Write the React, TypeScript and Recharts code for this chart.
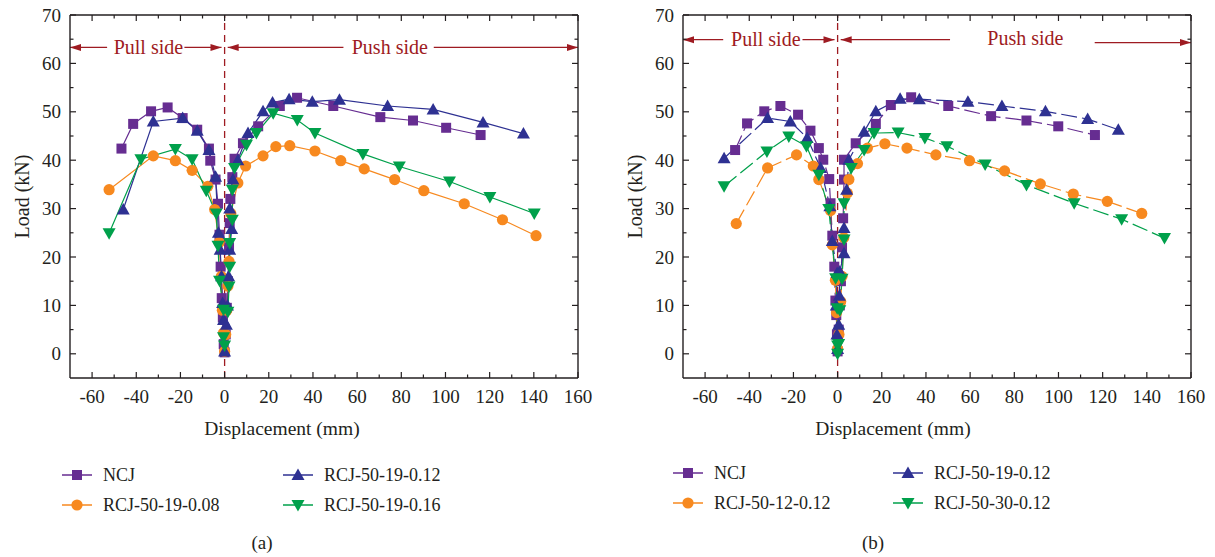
import React from "react";
import { LineChart, Line, XAxis, YAxis, ReferenceLine, ReferenceDot } from "recharts";

// ---- panel (a) ----
const ncjAX = [-46.7, -41.4, -33.3, -25.8, -19, -12.4, -7.1, -6.5, -4.1, -3, -2.3, -1.8, -1.3, -0.8, -0.4, 0, 0.5, 1, 1.5, 2, 2.3, 2.6, 3.5, 4.5, 8.3, 15.2, 25, 32.8, 49.2, 70.5, 85.3, 100.3, 115.9];
const ncjAY = [42.4, 47.5, 50.1, 50.9, 48.7, 46.3, 42.4, 39.9, 36, 31, 24.6, 18, 11.5, 7.5, 2, 0.3, 4, 9.5, 15, 22, 27, 32, 36.5, 40.3, 43.5, 47, 51.2, 52.9, 51.2, 48.9, 48.2, 46.7, 45.2];

const r008X = [-52.3, -32.3, -22.3, -14.7, -7.6, -4.5, -2.5, -1.5, -1, -0.5, 0, 0.5, 1, 1.5, 2, 2.8, 6, 9.5, 17.4, 23.2, 29.5, 40.9, 52.6, 63.2, 77, 90.2, 108.5, 125.8, 141];
const r008Y = [33.9, 40.9, 39.9, 37.9, 34.6, 29.8, 23, 16, 9, 4.3, 0.5, 4, 9, 14, 19.1, 29, 35.3, 38.8, 40.9, 42.8, 43, 41.9, 39.9, 38.2, 36, 33.7, 31, 27.7, 24.4];

const r012AX = [-45.9, -32.3, -19, -12.4, -7.1, -4.1, -2.8, -2, -1.4, -0.9, -0.5, 0, 0.8, 1.3, 1.8, 2.3, 3.2, 2.3, 3.8, 6, 10.6, 17.4, 21.7, 29.2, 39.7, 52, 73.8, 94.4, 117, 135.3];
const r012AY = [29.8, 48, 48.7, 46.1, 42.1, 36.6, 25, 21.5, 16, 10.5, 7, 0.5, 6, 10, 16, 21.5, 25.8, 30, 36, 40, 45.6, 50.1, 51.9, 52.6, 52.1, 52.5, 51.2, 50.5, 47.8, 45.5];

const r016X = [-52.3, -37.9, -22.3, -14.7, -8.3, -3.8, -3, -2.3, -0.5, -0.5, 0, 1.5, 2, 2.3, 2.3, 3.5, 3.5, 4.5, 9.9, 14.4, 22, 32.9, 40.9, 62.6, 79.1, 101.8, 120.1, 140.2];
const r016Y = [24.9, 40.2, 42.3, 40.2, 33.7, 29, 22.3, 15.1, 9.1, 3.4, 1.7, 8.7, 13.9, 18, 22.9, 27.7, 33.9, 38.4, 43.2, 45.6, 49.7, 48.3, 45.6, 41.3, 38.7, 35.6, 32.4, 29];

// ---- panel (b) ----
const ncjBX = [-46.4, -41, -33.2, -25.9, -17.9, -12.3, -8.5, -6.5, -3.8, -3.2, -2.4, -1.5, -1, -0.6, -0.3, 0, 0.5, 1, 1.5, 2, 2.5, 2.9, 2.9, 8.2, 17.3, 24.1, 33.3, 50.1, 69.5, 85.5, 99.9, 116.5];
const ncjBY = [42.1, 47.6, 50.1, 51.2, 49.4, 46.1, 42.5, 40.1, 36.1, 31.1, 24.4, 18, 11, 8, 4, 0.5, 5, 10, 15, 22, 28, 36, 40.1, 43.5, 47.5, 51.4, 53, 51.2, 49.1, 48.2, 47, 45.2];

const r12X = [-45.9, -31.7, -18.6, -11, -8.5, -3.2, -2.4, -1, -0.5, 0, 0.6, 1.4, 2, 2.8, 4.4, 5.1, 9, 13.5, 21.4, 31.4, 44.5, 59.7, 75.6, 91.8, 106.7, 122.1, 137.7];
const r12Y = [26.9, 38.4, 41.1, 38.8, 36, 29.6, 22.5, 15.2, 8.5, 1, 4, 10.8, 16, 24, 33.2, 36, 39.3, 42.5, 43.4, 42.5, 41.1, 39.9, 37.8, 35.1, 33, 31.5, 29];

const r19BX = [-51.4, -31.7, -21.4, -13.8, -7.7, -3.5, -2.4, -0.2, -0.6, -0.3, 0, 0.5, 0.8, 1, 2.9, 2.9, 4.1, 5.1, 12, 17.3, 28.3, 37, 59, 74.4, 94.1, 113.2, 127.1];
const r19BY = [40.4, 48.7, 48, 44.6, 38.4, 30.5, 23.3, 16.7, 10, 4, 1, 6, 12, 17, 20.8, 26, 33.9, 40.1, 45.9, 50.1, 52.7, 52.6, 52.1, 51.2, 50.1, 48.5, 46.3];

const r30X = [-51.4, -32, -22.1, -14.1, -8.5, -4, -0.9, -0.2, 0, 0, 0.5, 1, 2, 2.9, 2.9, 6.2, 12, 16.5, 27.4, 39.5, 49.5, 66.8, 85.5, 107.1, 128.6, 148];
const r30Y = [34.6, 41.8, 44.9, 42.9, 37, 29.9, 15.6, 9.4, 1.7, 0, 2, 9, 15.5, 23.6, 31.1, 38.4, 42.1, 45.6, 45.7, 44.6, 42.9, 39.1, 34.9, 31.1, 27.8, 23.9];

const xMajor = [-60, -40, -20, 0, 20, 40, 60, 80, 100, 120, 140, 160];
const xMinor = [-50, -30, -10, 10, 30, 50, 70, 90, 110, 130, 150];
const yMajor = [0, 10, 20, 30, 40, 50, 60, 70];
const yMinor = [5, 15, 25, 35, 45, 55, 65];

const FONT = '"Liberation Serif", "Times New Roman", serif';
const INK = "#231f20";
const RED = "#9e1b22";
const PURPLE = "#662d91";
const BLUE = "#2e3192";
const ORANGE = "#f7891f";
const GREEN = "#00a04b";

type Shape = "square" | "circle" | "up" | "down";
type Series = { name: string; color: string; shape: Shape; xs: number[]; ys: number[] };

const toPoints = (xs: number[], ys: number[]) => xs.map((x, i) => ({ x, y: ys[i] }));

const seriesA: Series[] = [
  { name: "NCJ", color: PURPLE, shape: "square", xs: ncjAX, ys: ncjAY },
  { name: "RCJ-50-19-0.08", color: ORANGE, shape: "circle", xs: r008X, ys: r008Y },
  { name: "RCJ-50-19-0.12", color: BLUE, shape: "up", xs: r012AX, ys: r012AY },
  { name: "RCJ-50-19-0.16", color: GREEN, shape: "down", xs: r016X, ys: r016Y },
];

const seriesB: Series[] = [
  { name: "NCJ", color: PURPLE, shape: "square", xs: ncjBX, ys: ncjBY },
  { name: "RCJ-50-12-0.12", color: ORANGE, shape: "circle", xs: r12X, ys: r12Y },
  { name: "RCJ-50-19-0.12", color: BLUE, shape: "up", xs: r19BX, ys: r19BY },
  { name: "RCJ-50-30-0.12", color: GREEN, shape: "down", xs: r30X, ys: r30Y },
];

function Marker({ cx, cy, shape, color }: { cx: number; cy: number; shape: Shape; color: string }) {
  if (cx == null || cy == null) return null;
  if (shape === "square") return <rect x={cx - 5} y={cy - 5} width={10} height={10} fill={color} />;
  if (shape === "circle") return <circle cx={cx} cy={cy} r={5.6} fill={color} />;
  if (shape === "up")
    return <polygon points={`${cx},${cy - 6.5} ${cx - 6.5},${cy + 5} ${cx + 6.5},${cy + 5}`} fill={color} />;
  return <polygon points={`${cx - 6.5},${cy - 5} ${cx + 6.5},${cy - 5} ${cx},${cy + 6.5}`} fill={color} />;
}

type Seg = { x1: number; x2: number; y: number; head: "start" | "end" };
type Note = { x: number; y: number; text: string };

const segsA: Seg[] = [
  { x1: -70, x2: -53.2, y: 63.3, head: "start" },
  { x1: -18.2, x2: -1.4, y: 63.3, head: "end" },
  { x1: 1.4, x2: 53.8, y: 63.3, head: "start" },
  { x1: 94.7, x2: 160, y: 63.3, head: "end" },
];
const notesA: Note[] = [
  { x: -34.5, y: 63.3, text: "Pull side" },
  { x: 74.8, y: 63.3, text: "Push side" },
];
const segsB: Seg[] = [
  { x1: -70, x2: -51.8, y: 64.9, head: "start" },
  { x1: -15.9, x2: -1.4, y: 64.9, head: "end" },
  { x1: 1.4, x2: 50.9, y: 64.9, head: "start" },
  { x1: 116.4, x2: 160, y: 64.3, head: "end" },
];
const notesB: Note[] = [
  { x: -32.5, y: 65.1, text: "Pull side" },
  { x: 85, y: 65.3, text: "Push side" },
];

const arrowShape = (head: "start" | "end") => (p: any) => {
  const { x1, y1, x2, y2 } = p;
  const hx = head === "start" ? Math.min(x1, x2) : Math.max(x1, x2);
  const dir = head === "start" ? 1 : -1;
  return (
    <g>
      <line x1={x1} y1={y1} x2={x2} y2={y2} stroke={RED} strokeWidth={1.3} />
      <polygon points={`${hx},${y1} ${hx + dir * 11},${y1 - 3.5} ${hx + dir * 11},${y1 + 3.5}`} fill={RED} />
    </g>
  );
};

const BottomTick = (p: any) => {
  const { x, y, payload } = p;
  const major = payload.value % 20 === 0;
  return (
    <g>
      <line x1={x} x2={x} y1={y} y2={y - (major ? 6 : 3.5)} stroke={INK} strokeWidth={1.2} />
      {major && (
        <text x={x} y={y + 25} textAnchor="middle" fontFamily={FONT} fontSize={19} fill={INK}>
          {payload.value}
        </text>
      )}
    </g>
  );
};
const TopTick = (p: any) => {
  const { x, y, payload } = p;
  const major = payload.value % 20 === 0;
  return <line x1={x} x2={x} y1={y} y2={y + (major ? 6 : 3.5)} stroke={INK} strokeWidth={1.2} />;
};
const LeftTick = (p: any) => {
  const { x, y, payload } = p;
  const major = payload.value % 10 === 0;
  return (
    <g>
      <line x1={x} x2={x + (major ? 6 : 3.5)} y1={y} y2={y} stroke={INK} strokeWidth={1.2} />
      {major && (
        <text x={x - 9} y={y} textAnchor="end" dominantBaseline="central" fontFamily={FONT} fontSize={19} fill={INK}>
          {payload.value}
        </text>
      )}
    </g>
  );
};
const RightTick = (p: any) => {
  const { x, y, payload } = p;
  const major = payload.value % 10 === 0;
  return <line x1={x} x2={x - (major ? 6 : 3.5)} y1={y} y2={y} stroke={INK} strokeWidth={1.2} />;
};

function Panel({ series, dashed, segs, notes, labelShift }: { series: Series[]; dashed: boolean; segs: Seg[]; notes: Note[]; labelShift: number }) {
  const xTicks = [...xMajor, ...xMinor].sort((a, b) => a - b);
  const yTicks = [...yMajor, ...yMinor].sort((a, b) => a - b);
  const axisLine = { stroke: INK, strokeWidth: 1.4 };
  return (
    <LineChart width={600} height={440} margin={{ top: 14, right: 21, bottom: 0, left: 0 }}>
      <XAxis
        dataKey="x"
        type="number"
        domain={[-70, 160]}
        allowDataOverflow
        ticks={xTicks}
        interval={0}
        tick={<BottomTick />}
        tickLine={false}
        tickSize={0}
        tickMargin={0}
        height={62}
        axisLine={axisLine}
        label={(p: any) => {
          const vb = p.viewBox;
          return (
            <text x={vb.x + vb.width / 2 + labelShift} y={vb.y + 50} textAnchor="middle" dominantBaseline="central" fontFamily={FONT} fontSize={19.5} fill={INK}>
              Displacement (mm)
            </text>
          );
        }}
      />
      <XAxis
        xAxisId="top"
        orientation="top"
        dataKey="x"
        type="number"
        domain={[-70, 160]}
        allowDataOverflow
        ticks={xTicks}
        interval={0}
        tick={<TopTick />}
        tickLine={false}
        tickSize={0}
        tickMargin={0}
        height={1}
        axisLine={axisLine}
      />
      <YAxis
        type="number"
        domain={[-5, 70]}
        allowDataOverflow
        ticks={yTicks}
        interval={0}
        tick={<LeftTick />}
        tickLine={false}
        tickSize={0}
        tickMargin={0}
        width={70}
        axisLine={axisLine}
        label={(p: any) => {
          const vb = p.viewBox;
          return (
            <text transform={`translate(${vb.x + 22},${vb.y + vb.height / 2}) rotate(-90)`} textAnchor="middle" dominantBaseline="central" fontFamily={FONT} fontSize={20} fill={INK}>
              Load (kN)
            </text>
          );
        }}
      />
      <YAxis
        yAxisId="right"
        orientation="right"
        type="number"
        domain={[-5, 70]}
        allowDataOverflow
        ticks={yTicks}
        interval={0}
        tick={<RightTick />}
        tickLine={false}
        tickSize={0}
        tickMargin={0}
        width={1}
        axisLine={axisLine}
      />
      {series.map((s) => (
        <Line
          key={s.name}
          data={toPoints(s.xs, s.ys)}
          dataKey="y"
          type="linear"
          stroke={s.color}
          strokeWidth={1.2}
          strokeDasharray={dashed ? "16 5" : undefined}
          isAnimationActive={false}
          activeDot={false}
          dot={(p: any) => <Marker key={`${s.name}-${p.index}`} cx={p.cx} cy={p.cy} shape={s.shape} color={s.color} />}
        />
      ))}
      <ReferenceLine x={0} stroke={RED} strokeWidth={1.3} strokeDasharray="7 5" />
      {segs.map((g, i) => (
        <ReferenceLine
          key={`seg-${i}`}
          segment={[{ x: g.x1, y: g.y }, { x: g.x2, y: g.y }]}
          ifOverflow="visible"
          shape={arrowShape(g.head)}
        />
      ))}
      {notes.map((n) => (
        <ReferenceDot
          key={n.text}
          x={n.x}
          y={n.y}
          r={0}
          ifOverflow="visible"
          shape={(p: any) => (
            <text x={p.cx} y={p.cy} textAnchor="middle" dominantBaseline="central" fontFamily={FONT} fontSize={20} fill={RED}>
              {n.text}
            </text>
          )}
        />
      ))}
    </LineChart>
  );
}

function LegendItem({ s, left, top }: { s: Series; left: number; top: number }) {
  return (
    <div style={{ position: "absolute", left, top: top - 14, height: 28, display: "flex", alignItems: "center" }}>
      <svg width={32} height={28}>
        <line x1={1} x2={31} y1={14} y2={14} stroke={s.color} strokeWidth={1.5} />
        <Marker cx={16} cy={14} shape={s.shape} color={s.color} />
      </svg>
      <span style={{ marginLeft: 10, fontFamily: FONT, fontSize: 18, color: INK, whiteSpace: "nowrap" }}>{s.name}</span>
    </div>
  );
}

export default function App() {
  return (
    <div style={{ position: "absolute", left: 0, top: 0, width: 1215, height: 557, background: "#fff", overflow: "hidden" }}>
      <div style={{ position: "absolute", left: 0, top: 0 }}>
        <Panel series={seriesA} dashed={false} segs={segsA} notes={notesA} labelShift={-42} />
      </div>
      <div style={{ position: "absolute", left: 613, top: 0 }}>
        <Panel series={seriesB} dashed={true} segs={segsB} notes={notesB} labelShift={-44} />
      </div>
      <LegendItem s={seriesA[0]} left={61} top={475} />
      <LegendItem s={seriesA[1]} left={61} top={505} />
      <LegendItem s={seriesA[2]} left={282} top={475} />
      <LegendItem s={seriesA[3]} left={282} top={505} />
      <LegendItem s={seriesB[0]} left={672} top={473} />
      <LegendItem s={seriesB[1]} left={672} top={503} />
      <LegendItem s={seriesB[2]} left={892} top={473} />
      <LegendItem s={seriesB[3]} left={892} top={503} />
      <div style={{ position: "absolute", left: 242, top: 532, width: 40, textAlign: "center", fontFamily: FONT, fontSize: 19, color: INK }}>(a)</div>
      <div style={{ position: "absolute", left: 853, top: 532, width: 40, textAlign: "center", fontFamily: FONT, fontSize: 19, color: INK }}>(b)</div>
    </div>
  );
}
